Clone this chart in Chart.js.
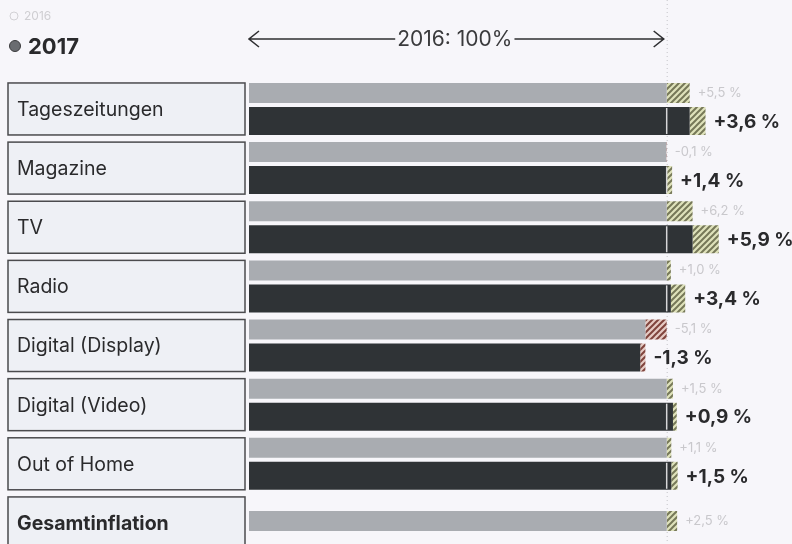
<!DOCTYPE html>
<html>
<head>
<meta charset="utf-8">
<script src="https://cdn.jsdelivr.net/npm/chart.js@4/dist/chart.umd.min.js"></script>
<style>
  html, body { margin: 0; padding: 0; background: #f7f6fa; overflow: hidden; }
  #wrap { width: 792px; height: 560px; }
</style>
</head>
<body>
<div id="wrap"><canvas id="c" width="792" height="560"></canvas></div>
<script>
// ---- data ----
const categories = ['Tageszeitungen', 'Magazine', 'TV', 'Radio', 'Digital (Display)', 'Digital (Video)', 'Out of Home', 'Gesamtinflation'];
const change2016 = [5.5, -0.1, 6.2, 1.0, -5.1, 1.5, 1.1, 2.5];
const change2017 = [3.6, 1.4, 5.9, 3.4, -1.3, 0.9, 1.5, null];
const legendLabels = ['2016', '2017'];
const baseLabel = '2016: 100%';
const baseValue = 100;

// ---- derived levels ----
const level2016 = change2016.map(p => baseValue + p);
const level2017 = change2017.map((p, i) => p === null ? null : level2016[i] * (1 + p / 100));
const fmt = p => (p >= 0 ? '+' : '-') + Math.abs(p).toFixed(1).replace('.', ',') + ' %';

const FONT = 'Inter, "DejaVu Sans", sans-serif';

function makeHatch(dark, light) {
  const s = 6;
  const cv = document.createElement('canvas');
  cv.width = s; cv.height = s;
  const g = cv.getContext('2d');
  g.fillStyle = light; g.fillRect(0, 0, s, s);
  g.strokeStyle = dark; g.lineWidth = 2;
  g.beginPath();
  g.moveTo(0, s); g.lineTo(s, 0);
  g.moveTo(-s / 2, s / 2); g.lineTo(s / 2, -s / 2);
  g.moveTo(s / 2, s * 1.5); g.lineTo(s * 1.5, s / 2);
  g.stroke();
  return g.createPattern(cv, 'repeat');
}
const hatchUp = makeHatch('#767858', '#dfe2bb');
const hatchDown = makeHatch('#80443d', '#e6cbc4');

const LIGHT = '#a9acb1';
const DARK = '#2f3336';

const lightSolid = level2016.map(L => [0, Math.min(baseValue, L)]);
const lightHatch = level2016.map(L => [Math.min(baseValue, L), Math.max(baseValue, L)]);
const darkSolid = level2017.map((C, i) => C === null ? null : [0, Math.min(level2016[i], C)]);
const darkHatch = level2017.map((C, i) => C === null ? null : [Math.min(level2016[i], C), Math.max(level2016[i], C)]);

const decor = {
  id: 'decor',
  beforeDatasetsDraw(chart) {
    const ctx = chart.ctx, x = chart.scales.x, y = chart.scales.y;
    const x100 = x.getPixelForValue(baseValue);
    ctx.save();
    // dotted reference line
    ctx.strokeStyle = '#c4c4c8'; ctx.lineWidth = 1; ctx.setLineDash([1, 3]);
    ctx.beginPath(); ctx.moveTo(x100 + 0.5, 0); ctx.lineTo(x100 + 0.5, chart.height); ctx.stroke();
    ctx.setLineDash([]);
    // label boxes
    categories.forEach((name, i) => {
      const c = y.getPixelForValue(i);
      const top = c - 24, h = 52;
      ctx.fillStyle = '#eef0f5';
      ctx.fillRect(8, top, 237, h);
      ctx.strokeStyle = '#4b4b4e'; ctx.lineWidth = 1.5;
      ctx.strokeRect(8, top, 237, h);
      ctx.fillStyle = '#2a2a2c';
      ctx.font = (i === categories.length - 1 ? '700 ' : '400 ') + '19.5px ' + FONT;
      ctx.textBaseline = 'middle'; ctx.textAlign = 'left';
      ctx.fillText(name, 17, top + h / 2 + 1);
    });
    ctx.restore();
  },
  afterDatasetsDraw(chart) {
    const ctx = chart.ctx, x = chart.scales.x;
    const x100 = x.getPixelForValue(baseValue);
    const mLight = chart.getDatasetMeta(0), mDark = chart.getDatasetMeta(2);
    ctx.save();
    categories.forEach((name, i) => {
      const le = mLight.data[i];
      // faint 2016 label
      ctx.fillStyle = '#c9c8cc';
      ctx.font = '400 13px ' + FONT;
      ctx.textBaseline = 'middle'; ctx.textAlign = 'left';
      ctx.fillText(fmt(change2016[i]), x.getPixelForValue(Math.max(baseValue, level2016[i])) + 8, le.y);
      if (level2017[i] !== null) {
        const de = mDark.data[i];
        const top = de.y - de.height / 2;
        if (level2017[i] > baseValue) {
          ctx.strokeStyle = '#d6d6d8'; ctx.lineWidth = 1.5;
          ctx.beginPath(); ctx.moveTo(x100, top + 1); ctx.lineTo(x100, top + de.height - 1); ctx.stroke();
        }
        ctx.fillStyle = '#2a2a2c';
        ctx.font = '700 19px ' + FONT;
        ctx.fillText(fmt(change2017[i]), x.getPixelForValue(Math.max(level2016[i], level2017[i])) + 8, de.y + 1);
      }
    });
    // arrow with base label
    const x0 = x.getPixelForValue(0), ay = 39;
    ctx.font = '400 21px ' + FONT;
    const tw = ctx.measureText(baseLabel).width;
    const mid = (x0 + x100) / 2 - 3;
    ctx.fillStyle = '#3a3a3c'; ctx.textAlign = 'center'; ctx.textBaseline = 'middle';
    ctx.fillText(baseLabel, mid, ay + 1);
    ctx.strokeStyle = '#2f2f31'; ctx.lineWidth = 1.6;
    ctx.beginPath();
    ctx.moveTo(x0, ay); ctx.lineTo(mid - tw / 2 - 2, ay);
    ctx.moveTo(mid + tw / 2 + 2, ay); ctx.lineTo(x100 - 3, ay);
    ctx.moveTo(x0 + 10, ay - 8); ctx.lineTo(x0, ay); ctx.lineTo(x0 + 10, ay + 8);
    ctx.moveTo(x100 - 13, ay - 8); ctx.lineTo(x100 - 3, ay); ctx.lineTo(x100 - 13, ay + 8);
    ctx.stroke();
    // legend
    ctx.textAlign = 'left';
    ctx.strokeStyle = '#d2d1d5'; ctx.lineWidth = 1;
    ctx.beginPath(); ctx.arc(14, 16, 4, 0, Math.PI * 2); ctx.stroke();
    ctx.fillStyle = '#cfced2'; ctx.font = '400 12px ' + FONT;
    ctx.fillText(legendLabels[0], 24, 16);
    ctx.fillStyle = '#6a6c70'; ctx.strokeStyle = '#3a3a3c';
    ctx.beginPath(); ctx.arc(15, 46, 5.5, 0, Math.PI * 2); ctx.fill(); ctx.stroke();
    ctx.fillStyle = '#2a2a2c'; ctx.font = '700 22px ' + FONT;
    ctx.fillText(legendLabels[1], 28, 47);
    ctx.restore();
  }
};

new Chart(document.getElementById('c'), {
  type: 'bar',
  data: {
    labels: categories,
    datasets: [
      { data: lightSolid, stack: 'a', backgroundColor: LIGHT, maxBarThickness: 20 },
      { data: lightHatch, stack: 'a', backgroundColor: change2016.map(p => p >= 0 ? hatchUp : hatchDown), maxBarThickness: 20 },
      { data: darkSolid, stack: 'b', backgroundColor: DARK, maxBarThickness: 28 },
      { data: darkHatch, stack: 'b', backgroundColor: change2017.map(p => (p === null || p >= 0) ? hatchUp : hatchDown), maxBarThickness: 28 }
    ]
  },
  options: {
    indexAxis: 'y',
    responsive: false,
    animation: false,
    devicePixelRatio: 1,
    skipNull: true,
    categoryPercentage: 0.947,
    barPercentage: 1,
    layout: { padding: { left: 249, right: 0, top: 77.4, bottom: 9.5 } },
    scales: {
      x: { type: 'linear', min: 0, max: 130, stacked: false, display: false },
      y: { type: 'category', display: false }
    },
    plugins: { legend: { display: false }, tooltip: { enabled: false } }
  },
  plugins: [decor]
});
</script>
</body>
</html>
